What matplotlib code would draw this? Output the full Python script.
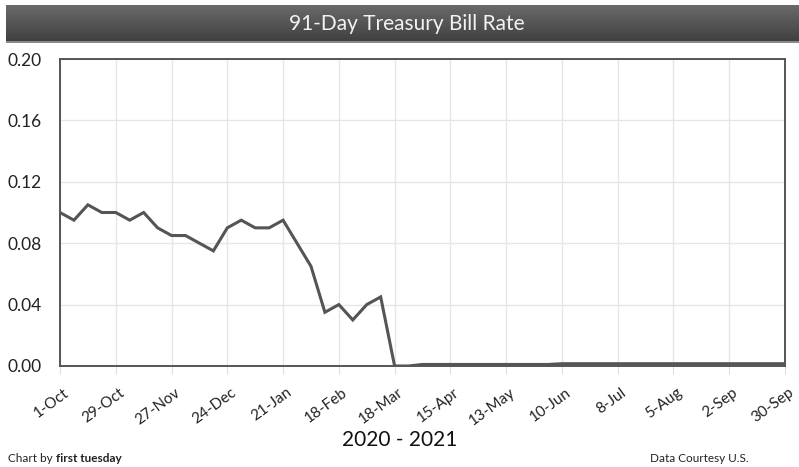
import numpy as np
import matplotlib
matplotlib.use("Agg")
import matplotlib.pyplot as plt
from matplotlib.transforms import ScaledTranslation

# weekly 91-day bill rate, 1-Oct-2020 .. 30-Sep-2021
rates = [0.100, 0.095, 0.105, 0.100, 0.100, 0.095, 0.100, 0.090, 0.085, 0.085,
         0.080, 0.075, 0.090, 0.095, 0.090, 0.090, 0.095, 0.080, 0.065, 0.035,
         0.040, 0.030, 0.040, 0.045, 0.000, 0.000, 0.001, 0.001, 0.001, 0.001,
         0.001, 0.001, 0.001, 0.001, 0.001, 0.001, 0.0015, 0.0015, 0.0015, 0.0015,
         0.0015, 0.0015, 0.0015, 0.0015, 0.0015, 0.0015, 0.0015, 0.0015, 0.0015,
         0.0015, 0.0015, 0.0015, 0.0015]
tick_labels = ["1-Oct", "29-Oct", "27-Nov", "24-Dec", "21-Jan", "18-Feb", "18-Mar",
               "15-Apr", "13-May", "10-Jun", "8-Jul", "5-Aug", "2-Sep", "30-Sep"]
y_ticks = [0.00, 0.04, 0.08, 0.12, 0.16, 0.20]

plt.rcParams["font.family"] = ["Lato", "DejaVu Sans"]

W, H = 799, 467
fig = plt.figure(figsize=(W / 100, H / 100), dpi=100)

# title bar with a vertical gradient
bar = fig.add_axes([6 / W, 1 - 43 / H, 1 - 6 / W, 38 / H])
grad = np.linspace(0, 1, 64).reshape(-1, 1)
bar.imshow(grad, aspect="auto", cmap=matplotlib.colors.LinearSegmentedColormap.from_list(
    "g", ["#6a6a6a", "#3e3e3e"]), extent=[0, 1, 0, 1], origin="upper")
bar.axhline(0.02, color="#9a9a9a", lw=1.2)
bar.set_axis_off()
bar.text(0.505, 0.5, "91-Day Treasury Bill Rate", color="#f2f2f2", fontsize=15,
         ha="center", va="center", transform=bar.transAxes)

ax = fig.add_axes([60 / W, 1 - 366 / H, 725 / W, 307 / H])
x = np.arange(len(rates))
ax.plot(x, rates, color="#555555", lw=2.2, solid_joinstyle="miter")

ax.set_xlim(0, len(rates) - 1)
ax.set_ylim(0, 0.20)
ax.set_yticks(y_ticks)
ax.set_yticklabels([f"{v:.2f}" for v in y_ticks], fontsize=12.5, ha="left", color="#222222")
ax.tick_params(axis="y", length=0, pad=37.5)
ax.set_xticks(x[::4])
ax.set_xticklabels(tick_labels, rotation=36, ha="right", rotation_mode="anchor",
                   fontsize=11, color="#222222")
ax.tick_params(axis="x", length=6, color="#dddddd", pad=8)
shift = ScaledTranslation(3 / 100, 0, fig.dpi_scale_trans)
for lbl in ax.get_xticklabels():
    lbl.set_transform(lbl.get_transform() + shift)
ax.grid(True, color="#e6e6e6", lw=1)
for s in ax.spines.values():
    s.set_color("#555555")
    s.set_linewidth(1.4)

fig.text(400 / W, 1 - 440 / H, "2020 - 2021", fontsize=15, ha="center", va="center",
         color="#111111")
fig.text(8 / W, 1 - 458 / H, "Chart by ", fontsize=8.5, ha="left", va="center", color="#222222")
fig.text(56 / W, 1 - 458 / H, "first tuesday", fontsize=8.5, ha="left", va="center",
         fontweight="bold", color="#222222")
fig.text(650 / W, 1 - 458 / H, "Data Courtesy U.S.", fontsize=8.5, ha="left", va="center",
         color="#222222")

fig.savefig("out.png", dpi=100)
